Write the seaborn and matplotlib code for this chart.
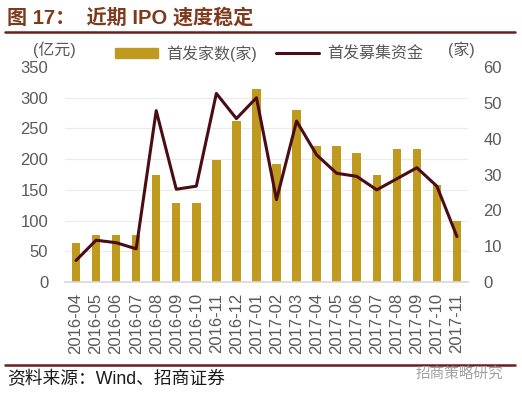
import matplotlib
matplotlib.use("Agg")
import matplotlib.pyplot as plt
import seaborn as sns
import pandas as pd
import numpy as np
from matplotlib.lines import Line2D

months = ["2016-04", "2016-05", "2016-06", "2016-07", "2016-08", "2016-09", "2016-10",
          "2016-11", "2016-12", "2017-01", "2017-02", "2017-03", "2017-04", "2017-05",
          "2017-06", "2017-07", "2017-08", "2017-09", "2017-10", "2017-11"]
ipo_count = [11, 13, 13, 13, 30, 22, 22, 34, 45, 54, 33, 48, 38, 38, 36, 30, 37, 37, 27, 17]
ipo_funds = [35, 68, 64, 54, 279, 151, 156, 307, 266, 300, 134, 262, 207, 177, 172, 150,
             168, 186, 156, 74]

left_ticks = [0, 50, 100, 150, 200, 250, 300, 350]
right_ticks = [0, 10, 20, 30, 40, 50, 60]

sns.set_theme(style="white")
plt.rcParams["font.family"] = ["Liberation Sans", "Noto Sans CJK SC"]

df = pd.DataFrame({"month": months, "count": ipo_count, "funds": ipo_funds})

BAR = "#C0991F"
LINE = "#4A0D15"
TICK = "#595959"
RULE = "#6B1E1E"

fig = plt.figure(figsize=(5.22, 3.97), dpi=100)
ax = fig.add_axes([0.1245, 0.2897, 0.772, 0.5415])
ax2 = ax.twinx()

sns.barplot(data=df, x="month", y="count", ax=ax2, color=BAR, width=0.42,
            saturation=1, edgecolor="none")
sns.lineplot(x=np.arange(len(months)), y=df["funds"], ax=ax, color=LINE, lw=2.2)

ax.set_zorder(ax2.get_zorder() + 1)
ax.patch.set_visible(False)

ax.set_ylim(0, 350)
ax.set_yticks(left_ticks)
ax2.set_ylim(0, 60)
ax2.set_yticks(right_ticks)
ax.set_xlim(-0.55, len(months) - 0.45)

# grid lines at the left-axis ticks, drawn behind the bars
ax2.set_yticks([v * 60 / 350 for v in left_ticks], minor=True)
ax2.grid(True, which="minor", axis="y", color="#EBEBEB", lw=0.8)
ax2.grid(False, which="major")
ax2.set_axisbelow(True)
ax2.tick_params(which="minor", length=0)

ax.set_xticks(range(len(months)))
ax.set_xticklabels(months, rotation=90)
for a in (ax, ax2):
    a.set_xlabel("")
    a.set_ylabel("")
    for s in a.spines.values():
        s.set_visible(False)
ax.spines["bottom"].set_visible(True)
ax.spines["bottom"].set_color("#D9D9D9")

ax.tick_params(axis="y", length=0, pad=12, labelsize=12, labelcolor=TICK)
ax.tick_params(axis="x", length=0, pad=8, labelsize=12, labelcolor=TICK)
ax2.tick_params(axis="y", length=0, pad=11, labelsize=12, labelcolor=TICK)

# title and rules
fig.text(0.013, 0.955, "图 17：  近期 IPO 速度稳定", fontsize=14.5, fontweight="bold",
         color="#7F3A1D", va="center", ha="left")
fig.add_artist(Line2D([0.01, 0.987], [0.919, 0.919], color=RULE, lw=1.8))
fig.add_artist(Line2D([0.01, 0.987], [0.081, 0.081], color=RULE, lw=1.8))
fig.text(0.013, 0.045, "资料来源：Wind、招商证券", fontsize=12.8, color="#1A1A1A",
         va="center", ha="left")
fig.text(0.965, 0.055, "招商策略研究", fontsize=10.5, color="#A0A0A0",
         va="center", ha="right")

# unit labels
fig.text(0.105, 0.875, "(亿元)", fontsize=11.5, color=TICK, va="center", ha="center")
fig.text(0.884, 0.875, "(家)", fontsize=11.5, color=TICK, va="center", ha="center")

handles = [plt.Rectangle((0, 0), 1, 1, color=BAR), Line2D([], [], color=LINE, lw=2.2)]
fig.legend(handles, ["首发家数(家)", "首发募集资金"], loc="center left",
           bbox_to_anchor=(0.22, 0.866), ncol=2, frameon=False, fontsize=11.5,
           handlelength=2.7, handleheight=0.6, handletextpad=0.5, columnspacing=1.2,
           labelcolor=TICK, borderaxespad=0, borderpad=0)

fig.savefig("out.png", dpi=100)
